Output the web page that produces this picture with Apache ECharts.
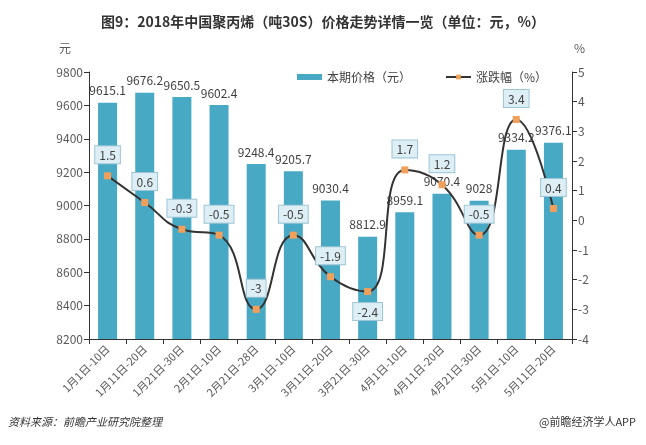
<!DOCTYPE html>
<html>
<head>
<meta charset="utf-8">
<script src="https://cdn.jsdelivr.net/npm/echarts@6/dist/echarts.min.js"></script>
<style>
  html, body { margin: 0; padding: 0; background: #fff; }
  #chart { width: 646px; height: 445px; }
</style>
</head>
<body>
<div id="chart"></div>
<script>
var categories = ["1月1日-10日", "1月11日-20日", "1月21日-30日", "2月1日-10日", "2月21日-28日",
  "3月1日-10日", "3月11日-20日", "3月21日-30日", "4月1日-10日", "4月11日-20日",
  "4月21日-30日", "5月1日-10日", "5月11日-20日"];
var priceValues = [9615.1, 9676.2, 9650.5, 9602.4, 9248.4, 9205.7, 9030.4, 8812.9, 8959.1, 9070.4, 9028, 9334.2, 9376.1];
var changeValues = [1.5, 0.6, -0.3, -0.5, -3, -0.5, -1.9, -2.4, 1.7, 1.2, -0.5, 3.4, 0.4];
// labels that sit under the point instead of above it
var labelBelow = [7];

var font = "'Noto Sans CJK SC', 'Microsoft YaHei', sans-serif";
var myChart = echarts.init(document.getElementById("chart"));

var lineData = changeValues.map(function (v, i) {
  var item = { value: v };
  if (labelBelow.indexOf(i) >= 0) {
    item.label = { position: "bottom", distance: 8 };
  }
  return item;
});

var option = {
  backgroundColor: "#fff",
  textStyle: { fontFamily: font },
  title: {
    text: "图9：2018年中国聚丙烯（吨30S）价格走势详情一览（单位：元，%）",
    left: "center",
    top: 10,
    textStyle: { fontSize: 14, fontWeight: "bold", color: "#333", fontFamily: font }
  },
  legend: {
    left: 292,
    top: 66,
    itemGap: 34,
    itemWidth: 25,
    itemHeight: 6,
    textStyle: { fontSize: 12, color: "#404040", fontFamily: font },
    data: [
      { name: "本期价格（元）", icon: "rect" },
      { name: "涨跌幅（%）" }
    ]
  },
  grid: { left: 89, right: 74, top: 72, bottom: 106 },
  xAxis: {
    type: "category",
    data: categories,
    axisLine: { onZero: false, lineStyle: { color: "#333" } },
    axisTick: { show: true, lineStyle: { color: "#333" } },
    axisLabel: { rotate: 45, fontSize: 11, color: "#595959", interval: 0, margin: 8 }
  },
  yAxis: [
    {
      type: "value",
      min: 8200,
      max: 9800,
      interval: 200,
      name: "元",
      nameGap: 18,
      nameTextStyle: { align: "right", padding: [0, 18, 0, 0], fontSize: 12, color: "#595959" },
      axisLine: { show: true, lineStyle: { color: "#333" } },
      axisTick: { show: true, lineStyle: { color: "#333" } },
      axisLabel: { fontSize: 12, color: "#595959", margin: 6, formatter: function (v) { return String(v); } },
      splitLine: { show: false }
    },
    {
      type: "value",
      min: -4,
      max: 5,
      interval: 1,
      name: "%",
      nameGap: 18,
      nameTextStyle: { align: "left", padding: [0, 0, 0, 2], fontSize: 12, color: "#595959" },
      axisLine: { show: true, lineStyle: { color: "#333" } },
      axisTick: { show: true, lineStyle: { color: "#333" } },
      axisLabel: { fontSize: 12, color: "#595959", margin: 6 },
      splitLine: { show: false }
    }
  ],
  series: [
    {
      name: "本期价格（元）",
      type: "bar",
      data: priceValues,
      barWidth: 19,
      itemStyle: { color: "#48a9c5" },
      label: {
        show: true,
        position: "top",
        distance: 6,
        fontSize: 12,
        color: "#404040"
      }
    },
    {
      name: "涨跌幅（%）",
      type: "line",
      yAxisIndex: 1,
      data: lineData,
      smooth: 0.5,
      symbol: "rect",
      symbolSize: 7,
      lineStyle: { color: "#333", width: 2 },
      itemStyle: { color: "#f0a05a" },
      label: {
        show: true,
        position: "top",
        distance: 9,
        fontSize: 12,
        color: "#404040",
        backgroundColor: "#ddeef5",
        borderColor: "#9cc5d6",
        borderWidth: 1,
        padding: [3, 4, 2, 4]
      },
      z: 3
    }
  ],
  graphic: [
    {
      type: "text",
      left: 8,
      top: 416,
      style: { text: "资料来源：前瞻产业研究院整理", fontSize: 11, fontStyle: "italic", fill: "#333", fontFamily: font }
    },
    {
      type: "text",
      right: 10,
      top: 416,
      style: { text: "@前瞻经济学人APP", fontSize: 11, fill: "#333", fontFamily: font }
    }
  ]
};

option && myChart.setOption(option);
</script>
</body>
</html>
